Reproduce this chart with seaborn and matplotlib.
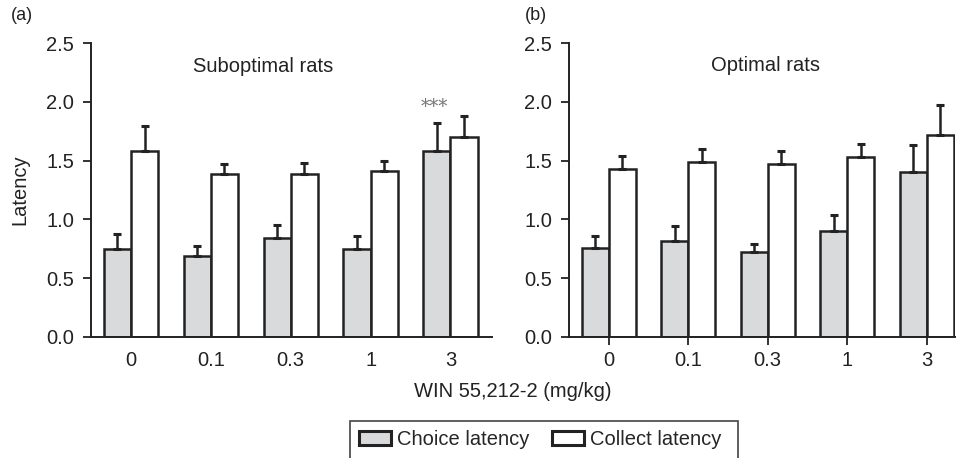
import numpy as np
import pandas as pd
import matplotlib
matplotlib.use("Agg")
import matplotlib.pyplot as plt
import seaborn as sns

# === data ===
doses = ["0", "0.1", "0.3", "1", "3"]
measures = ["Choice latency", "Collect latency"]

subopt_choice = [0.75, 0.69, 0.84, 0.75, 1.58]
subopt_choice_sem = [0.13, 0.08, 0.11, 0.11, 0.24]
subopt_collect = [1.58, 1.39, 1.39, 1.41, 1.70]
subopt_collect_sem = [0.21, 0.08, 0.09, 0.09, 0.18]

opt_choice = [0.76, 0.82, 0.72, 0.90, 1.40]
opt_choice_sem = [0.10, 0.12, 0.07, 0.14, 0.23]
opt_collect = [1.43, 1.49, 1.47, 1.53, 1.72]
opt_collect_sem = [0.11, 0.11, 0.11, 0.11, 0.25]

panels = [
    ("(a)", "Suboptimal rats", subopt_choice, subopt_choice_sem, subopt_collect, subopt_collect_sem),
    ("(b)", "Optimal rats", opt_choice, opt_choice_sem, opt_collect, opt_collect_sem),
]

# === style ===
sns.set_style("ticks")
plt.rcParams["font.family"] = ["Liberation Sans", "DejaVu Sans"]
INK = "#222222"
palette = {"Choice latency": "#d9dadc", "Collect latency": "#ffffff"}

fig = plt.figure(figsize=(9.6, 4.58), dpi=100)
ax_a = fig.add_axes([0.0948, 0.2642, 0.4177, 0.6419])
ax_b = fig.add_axes([0.5927, 0.2642, 0.4023, 0.6419])

for ax, (tag, title, ch, ch_sem, co, co_sem) in zip([ax_a, ax_b], panels):
    df = pd.DataFrame({
        "dose": doses * 2,
        "measure": [measures[0]] * len(doses) + [measures[1]] * len(doses),
        "latency": ch + co,
    })
    sns.barplot(data=df, x="dose", y="latency", hue="measure", order=doses,
                hue_order=measures, palette=palette, saturation=1, width=0.68,
                edgecolor=INK, linewidth=1.8, errorbar=None, legend=False, ax=ax)

    # one-sided SEM bars on top of each bar
    for cont, sem in zip(ax.containers, [ch_sem, co_sem]):
        xs = [b.get_x() + b.get_width() / 2 for b in cont]
        ys = [b.get_height() for b in cont]
        ax.errorbar(xs, ys, yerr=[np.zeros(len(sem)), sem], fmt="none",
                    ecolor=INK, elinewidth=1.8, capsize=3.2, capthick=2.2, zorder=1)

    ax.set_ylim(0, 2.5)
    ax.set_yticks([0, 0.5, 1.0, 1.5, 2.0, 2.5])
    ax.set_yticklabels(["0.0", "0.5", "1.0", "1.5", "2.0", "2.5"])
    ax.set_xlabel("")
    ax.set_ylabel("")
    ax.tick_params(axis="both", labelsize=14.5, colors=INK, length=6, width=1.3, pad=4)
    ax.tick_params(axis="y", pad=6)
    for s in ["left", "bottom"]:
        ax.spines[s].set_color(INK)
        ax.spines[s].set_linewidth(1.4)
    sns.despine(ax=ax)

ax_a.set_xlim(-0.5, 4.52)
ax_b.set_xlim(-0.5, 4.36)
# left panel has no x tick marks, only labels
ax_a.tick_params(axis="x", length=0, pad=10)

ax_a.text(1.65, 2.30, "Suboptimal rats", ha="center", va="center", fontsize=14.5, color=INK)
ax_b.text(1.975, 2.31, "Optimal rats", ha="center", va="center", fontsize=14.5, color=INK)
ax_a.set_ylabel("Latency", fontsize=14.5, color=INK, labelpad=12)
ax_a.text(3.8, 1.96, "***", ha="center", va="center", fontsize=13, color="#777777",
          family=["DejaVu Serif"])

fig.text(0.011, 0.967, "(a)", fontsize=13, color=INK, ha="left", va="center")
fig.text(0.547, 0.967, "(b)", fontsize=13, color=INK, ha="left", va="center")
fig.text(0.534, 0.145, "WIN 55,212-2 (mg/kg)", fontsize=14.5, color=INK,
         ha="center", va="center")

# legend below the panels; its frame runs off the bottom edge
handles = [plt.Rectangle((0, 0), 1, 1, facecolor=palette[m], edgecolor=INK, linewidth=2.2)
           for m in measures]
leg = fig.legend(handles, measures, loc="upper left", bbox_to_anchor=(0.3646, 0.081),
                 ncol=2, fontsize=14.5, frameon=False,
                 handlelength=1.6, handleheight=0.75, handletextpad=0.3,
                 columnspacing=1.1, borderpad=0.45, borderaxespad=0)
fig.patches.append(plt.Rectangle((0.3646, -0.1), 0.4042, 0.181, transform=fig.transFigure,
                                 facecolor="none", edgecolor="#444444", linewidth=1.2))

fig.savefig("out.png", dpi=100)
